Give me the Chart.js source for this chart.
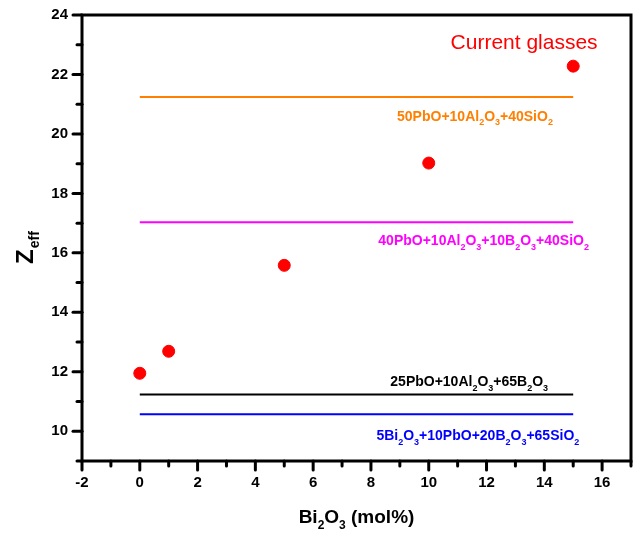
<!DOCTYPE html>
<html>
<head>
<meta charset="utf-8">
<script src="https://cdn.jsdelivr.net/npm/chart.js@4.4.0/dist/chart.umd.min.js"></script>
<style>
  html, body { margin:0; padding:0; background:#fff; }
  #wrap { width:638px; height:533px; position:relative; }
</style>
</head>
<body>
<div id="wrap"><canvas id="c" width="638" height="533"></canvas></div>
<script>
// measured data
const bi2o3 = [0, 1, 5, 10, 15];
const zeff = [11.95, 12.69, 15.58, 19.02, 22.28];

// reference glasses (horizontal lines)
const refNames = [
  '50PbO+10Al_2O_3+40SiO_2',
  '40PbO+10Al_2O_3+10B_2O_3+40SiO_2',
  '25PbO+10Al_2O_3+65B_2O_3',
  '5Bi_2O_3+10PbO+20B_2O_3+65SiO_2'
];
const refZeff = [21.24, 17.03, 11.24, 10.57];
const refSpan = [0, 15];
const refColors = ['#ff7f00', '#ff00ff', '#000000', '#0000ff'];

const xTicks = [-2, 0, 2, 4, 6, 8, 10, 12, 14, 16];
const yTicks = [10, 12, 14, 16, 18, 20, 22, 24];

// label placement: [x value, pixel offset from line]
const refLabelPos = [[11.6, 20], [11.9, 19], [11.4, -12], [11.7, 22]];

const FONT = '"Liberation Sans", Arial, sans-serif';

function drawRich(ctx, text, x, y, size, color, bold){
  // '_' makes the next character a subscript
  const parts = [];
  for(let i=0;i<text.length;i++){
    if(text[i] === '_' && i+1 < text.length){ parts.push({t:text[i+1], sub:true}); i++; }
    else parts.push({t:text[i], sub:false});
  }
  const w = bold ? 'bold ' : '';
  const subSize = Math.round(size*0.62);
  let total = 0;
  parts.forEach(p => {
    ctx.font = w + (p.sub ? subSize : size) + 'px ' + FONT;
    p.w = ctx.measureText(p.t).width;
    total += p.w;
  });
  let cx = x - total/2;
  ctx.fillStyle = color;
  ctx.textAlign = 'left';
  ctx.textBaseline = 'middle';
  parts.forEach(p => {
    ctx.font = w + (p.sub ? subSize : size) + 'px ' + FONT;
    ctx.fillText(p.t, cx, p.sub ? y + size*0.42 : y);
    cx += p.w;
  });
}

const framePlugin = {
  id: 'frame',
  afterDatasetsDraw(chart){
    const ctx = chart.ctx, a = chart.chartArea;
    const xs = chart.scales.x, ys = chart.scales.y;
    ctx.save();
    ctx.strokeStyle = '#000';
    ctx.lineWidth = 3;
    ctx.strokeRect(a.left, a.top, a.right - a.left, a.bottom - a.top);

    // x ticks
    ctx.lineCap = 'round';
    for(let v = xs.min; v <= xs.max; v++){
      const px = xs.getPixelForValue(v);
      const len = xTicks.includes(v) ? 9 : 5;
      ctx.beginPath(); ctx.moveTo(px, a.bottom); ctx.lineTo(px, a.bottom + len); ctx.stroke();
    }
    for(let v = ys.min; v <= ys.max; v++){
      const py = ys.getPixelForValue(v);
      const len = yTicks.includes(v) ? 9 : 5;
      ctx.beginPath(); ctx.moveTo(a.left, py); ctx.lineTo(a.left - len, py); ctx.stroke();
    }
    ctx.fillStyle = '#000';
    ctx.font = 'bold 15px ' + FONT;
    ctx.textAlign = 'center'; ctx.textBaseline = 'middle';
    xTicks.forEach(v => ctx.fillText(String(v), xs.getPixelForValue(v), a.bottom + 22));
    ctx.textAlign = 'right';
    yTicks.forEach(v => ctx.fillText(String(v), a.left - 14, ys.getPixelForValue(v)));

    // axis titles
    drawRich(ctx, 'Bi_2O_3 (mol%)', (a.left + a.right)/2, 518, 19, '#000', true);
    ctx.save();
    ctx.translate(26, 248);
    ctx.rotate(-Math.PI/2);
    ctx.fillStyle = '#000';
    ctx.font = 'bold 24px ' + FONT;
    const zw = ctx.measureText('Z').width;
    ctx.font = 'bold 14px ' + FONT;
    const ew = ctx.measureText('eff').width;
    ctx.textAlign = 'left'; ctx.textBaseline = 'middle';
    ctx.font = 'bold 24px ' + FONT;
    ctx.fillText('Z', -(zw+ew)/2, 0);
    ctx.font = 'bold 14px ' + FONT;
    ctx.fillText('eff', -(zw+ew)/2 + zw + 1, 9);
    ctx.restore();

    // line labels
    refNames.forEach((n, i) => {
      const [lx, off] = refLabelPos[i];
      drawRich(ctx, n, xs.getPixelForValue(lx), ys.getPixelForValue(refZeff[i]) + off, 14, refColors[i], true);
    });
    ctx.font = '21px ' + FONT;
    ctx.fillStyle = '#ff0000';
    ctx.textAlign = 'center'; ctx.textBaseline = 'middle';
    ctx.fillText('Current glasses', xs.getPixelForValue(13.3), ys.getPixelForValue(23.06));
    ctx.restore();
  }
};

const datasets = refNames.map((n, i) => ({
  type: 'line',
  label: n,
  data: refSpan.map(x => ({x, y: refZeff[i]})),
  borderColor: refColors[i],
  borderWidth: 2,
  pointRadius: 0,
  fill: false
}));
datasets.push({
  type: 'scatter',
  label: 'Current glasses',
  data: bi2o3.map((x, i) => ({x, y: zeff[i]})),
  backgroundColor: '#ff0000',
  borderColor: '#ff0000',
  pointRadius: 6,
  pointHoverRadius: 6
});

new Chart(document.getElementById('c'), {
  type: 'scatter',
  data: { datasets },
  options: {
    responsive: false,
    animation: false,
    layout: { padding: { top: 15, right: 6, left: 0, bottom: 0 } },
    plugins: { legend: { display: false }, tooltip: { enabled: false } },
    scales: {
      x: {
        type: 'linear', min: -2, max: 17,
        grid: { display: false }, border: { display: false },
        ticks: { display: false },
        afterFit: s => { s.height = 72; }
      },
      y: {
        type: 'linear', min: 9, max: 24,
        grid: { display: false }, border: { display: false },
        ticks: { display: false },
        afterFit: s => { s.width = 82; }
      }
    }
  },
  plugins: [framePlugin]
});
</script>
</body>
</html>
